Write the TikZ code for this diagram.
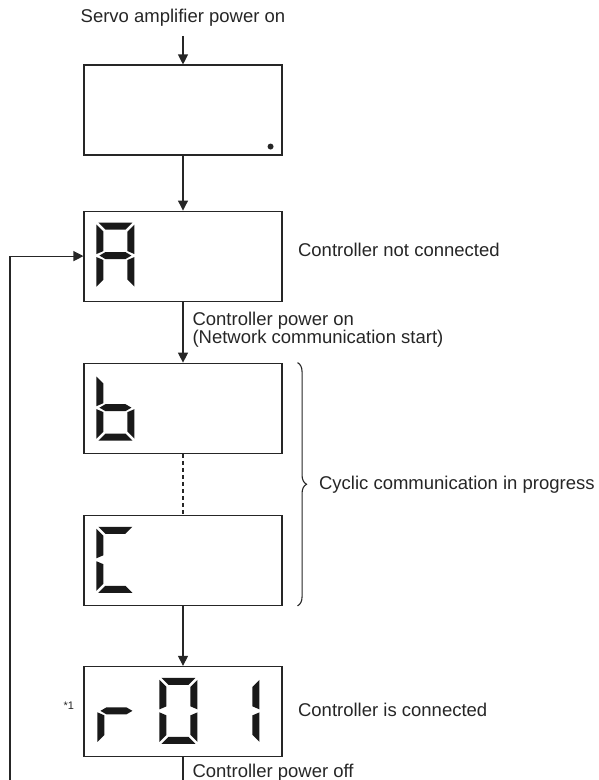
\documentclass[tikz,border=0pt]{standalone}
\usepackage{fontspec}
\setmainfont{Liberation Sans}
\usetikzlibrary{arrows.meta,positioning,calc,decorations.pathreplacing}

% seven segment pieces, one cell is 38 x 66
\newcommand{\dsega}{\fill[seg] (2,0) -- (36,0) -- (29,7) -- (9,7) -- cycle;}
\newcommand{\dsegb}{\fill[seg] (38,2) -- (38,31.5) -- (31,28.5) -- (31,9) -- cycle;}
\newcommand{\dsegc}{\fill[seg] (38,34.5) -- (38,64) -- (31,57) -- (31,37.5) -- cycle;}
\newcommand{\dsegd}{\fill[seg] (2,66) -- (36,66) -- (29,59) -- (9,59) -- cycle;}
\newcommand{\dsege}{\fill[seg] (0,34.5) -- (0,64) -- (7,57) -- (7,37.5) -- cycle;}
\newcommand{\dsegf}{\fill[seg] (0,2) -- (0,31.5) -- (7,28.5) -- (7,9) -- cycle;}
\newcommand{\dsegg}{\fill[seg] (3,33) -- (9,29.5) -- (29,29.5) -- (35,33) -- (29,36.5) -- (9,36.5) -- cycle;}
\newcommand{\segdigit}[1]{\foreach \s in {#1} {\csname dseg\s\endcsname}}

\begin{document}
\begin{tikzpicture}[x=1pt,y=-1pt,>={Triangle[length=10pt,width=10pt]},
  line width=1.1pt,color=black!85,
  disp/.style={draw,minimum width=198pt,minimum height=90pt,inner sep=0pt},
  txt/.style={inner sep=0pt,font=\fontsize{18.5}{18}\selectfont},
  small/.style={inner sep=0pt,font=\fontsize{11}{11}\selectfont},
  seg/.style={fill=black!90}]

  \useasboundingbox (0,0) rectangle (599,780);

  \node[disp] (d1) at (183,110) {};
  \node[disp, below=55pt of d1] (d2) {};
  \node[disp, below=61pt of d2] (d3) {};
  \node[disp, below=61pt of d3] (d4) {};
  \node[disp, below=60pt of d4] (d5) {};

  \node[txt, anchor=base] (on) at ([yshift=42pt]d1.north) {Servo amplifier power on};
  \node[txt, anchor=base west] (nc) at ([xshift=15pt]d2.east) {Controller not connected};
  \node[txt, anchor=north west, align=left] (pon) at ([xshift=9pt,yshift=-10pt]d2.south)
    {Controller power on\\(Network communication start)};
  \node[txt, anchor=base west] (ic) at ([xshift=15pt,yshift=-5pt]d5.east) {Controller is connected};
  \node[small, anchor=base east] (n1) at ([xshift=-9pt,yshift=2pt]d5.west) {*1};
  \node[txt, anchor=north west] (poff) at ([xshift=9pt,yshift=-7pt]d5.south) {Controller power off};

  \coordinate (loop) at (10,780);

  % display contents
  \fill ([shift={(-12,-9)}]d1.south east) circle (3);
  \begin{scope}[shift={($(d2.north west)+(13,12)$)}]
    \segdigit{a,b,c,e,f,g}
  \end{scope}
  \begin{scope}[shift={($(d3.north west)+(13,12)$)}]
    \segdigit{c,d,e,f,g}
  \end{scope}
  \begin{scope}[shift={($(d4.north west)+(13,12)$)}]
    \segdigit{a,d,e,f}
  \end{scope}
  \begin{scope}[shift={($(d5.north west)+(14,12)$)}]
    \segdigit{e,g}
  \end{scope}
  \begin{scope}[shift={($(d5.north west)+(76,12)$)}]
    \segdigit{a,b,c,d,e,f}
  \end{scope}
  \begin{scope}[shift={($(d5.north west)+(138,12)$)}]
    \segdigit{b,c}
  \end{scope}

  \draw[->, shorten <=9pt] (on.south) -- (d1.north);
  \draw[->] (d1) -- (d2);
  \draw[->] (d2) -- (d3);
  \draw[dash pattern=on 4pt off 3pt] (d3) -- (d4);
  \draw[->] (d4) -- (d5);
  \draw (d5.south) -- (d5.south |- loop);
  \draw[->] (loop) |- (d2.west);

  \draw[decorate,decoration={brace,amplitude=9pt}]
    ([xshift=15pt]d3.north east) -- node[txt, anchor=west, xshift=21pt] (cyc)
    {Cyclic communication in progress} ([xshift=15pt]d4.south east);
\end{tikzpicture}
\end{document}
